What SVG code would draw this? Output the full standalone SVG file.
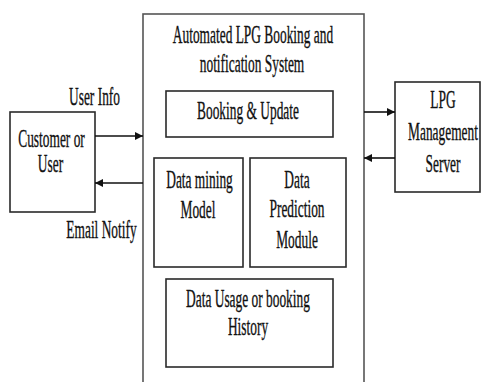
<svg xmlns="http://www.w3.org/2000/svg" width="485" height="382" viewBox="0 0 485 382">
<style>
.box{fill:#fff;stroke:#2a2a2a;stroke-width:1.6}
.main{fill:#fff;stroke:#555;stroke-width:1.6}
.t{font-family:"Liberation Serif","Times New Roman",serif;font-size:25px;fill:#111;stroke:#111;stroke-width:0.35;text-anchor:middle}
.c{stroke:#111;stroke-width:1.6;fill:none;marker-end:url(#ah)}
</style>
<defs>
<marker id="ah" viewBox="0 0 10 10" refX="10" refY="5" markerWidth="5" markerHeight="5" markerUnits="strokeWidth" orient="auto">
<path d="M0,0 L10,5 L0,10 z" fill="#111"/>
</marker>
</defs>
<rect width="485" height="382" fill="#fff"/>
<g id="system">
<rect class="main" x="143" y="14" width="221" height="400"/>
<text class="t" transform="matrix(0.536 0 0 1 253 43)">Automated LPG Booking and</text>
<text class="t" transform="matrix(0.536 0 0 1 252 72)">notification System</text>
</g>
<g id="booking">
<rect class="box" x="166" y="91" width="167" height="46"/>
<text class="t" transform="matrix(0.536 0 0 1 248 119)">Booking &amp; Update</text>
</g>
<g id="mining">
<rect class="box" x="154" y="158" width="89" height="109"/>
<text class="t" transform="matrix(0.536 0 0 1 199.5 188)">Data mining</text>
<text class="t" transform="matrix(0.536 0 0 1 198 218)">Model</text>
</g>
<g id="prediction">
<rect class="box" x="250" y="158" width="96" height="109"/>
<text class="t" transform="matrix(0.536 0 0 1 297 188)">Data</text>
<text class="t" transform="matrix(0.536 0 0 1 297 217)">Prediction</text>
<text class="t" transform="matrix(0.536 0 0 1 297 248)">Module</text>
</g>
<g id="history">
<rect class="box" x="166" y="279" width="167" height="88"/>
<text class="t" transform="matrix(0.536 0 0 1 248 307)">Data Usage or booking</text>
<text class="t" transform="matrix(0.536 0 0 1 248 335)">History</text>
</g>
<g id="customer">
<rect class="box" x="10" y="112" width="85" height="100"/>
<text class="t" transform="matrix(0.536 0 0 1 51.5 147)">Customer or</text>
<text class="t" transform="matrix(0.536 0 0 1 50.5 172)">User</text>
</g>
<g id="server">
<rect class="box" x="395" y="82" width="85" height="110"/>
<text class="t" transform="matrix(0.536 0 0 1 443 108)">LPG</text>
<text class="t" transform="matrix(0.536 0 0 1 443 140)">Management</text>
<text class="t" transform="matrix(0.536 0 0 1 443 172)">Server</text>
</g>
<g id="connectors">
<line class="c" x1="95" y1="136" x2="143" y2="136"/>
<line class="c" x1="143" y1="183" x2="95" y2="183"/>
<line class="c" x1="364" y1="112" x2="395" y2="112"/>
<line class="c" x1="395" y1="158" x2="364" y2="158"/>
<text class="t" transform="matrix(0.536 0 0 1 94.5 105)">User Info</text>
<text class="t" transform="matrix(0.536 0 0 1 101.5 238)">Email Notify</text>
</g>
</svg>
